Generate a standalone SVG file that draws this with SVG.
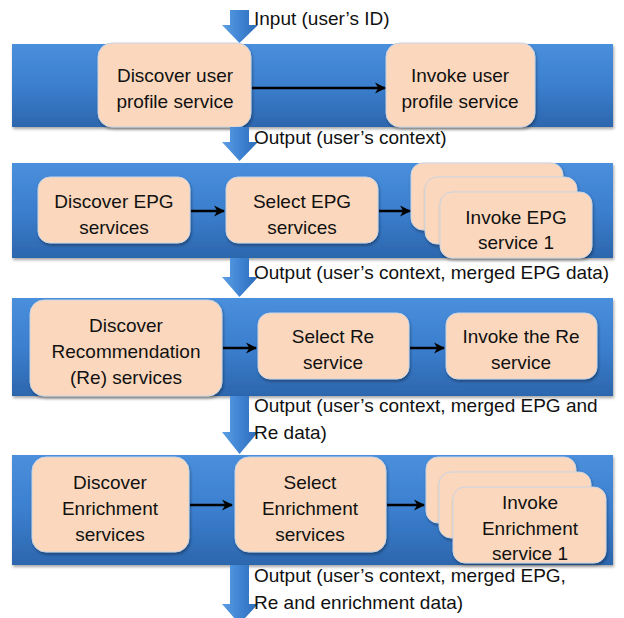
<svg xmlns="http://www.w3.org/2000/svg" width="624" height="618" viewBox="0 0 624 618">
<defs>
<linearGradient id="band" x1="0" y1="0" x2="0" y2="1">
<stop offset="0" stop-color="#4a8fdc"/>
<stop offset="0.5" stop-color="#3b7fcf"/>
<stop offset="1" stop-color="#2c66ad"/>
</linearGradient>
<linearGradient id="barrow" x1="0" y1="0" x2="1" y2="0">
<stop offset="0" stop-color="#5d9fe4"/>
<stop offset="0.5" stop-color="#3f84d3"/>
<stop offset="1" stop-color="#2c6bb8"/>
</linearGradient>
<filter id="sh" x="-10%" y="-10%" width="125%" height="130%">
<feDropShadow dx="1" dy="2" stdDeviation="1.5" flood-color="#000" flood-opacity="0.35"/>
</filter>
<marker id="ah" viewBox="0 0 10 10" refX="9" refY="5" markerWidth="4.5" markerHeight="4.5" orient="auto">
<path d="M0,0 L10,5 L0,10 L3,5 Z" fill="#000"/>
</marker>
</defs>
<style>
.band{fill:url(#band);filter:url(#sh);}
.box{fill:#fbd8bd;stroke:#c9d4e4;stroke-width:1;filter:url(#sh);}
.t{font-family:"Liberation Sans",Arial,sans-serif;font-size:19px;fill:#111;}
.c{text-anchor:middle;}
.conn{stroke:#000;stroke-width:2.5;fill:none;marker-end:url(#ah);}
.ba{fill:url(#barrow);}
</style>

<!-- bands -->
<g id="bands">
<rect class="band" x="12" y="44" width="601" height="83"/>
<rect class="band" x="12" y="163" width="601" height="95"/>
<rect class="band" x="12" y="298" width="601" height="98"/>
<rect class="band" x="12" y="455" width="601" height="110"/>
</g>

<!-- stage 1 -->
<g id="discover-user-profile">
<rect class="box" x="98" y="43" width="153" height="84" rx="14"/>
<text class="t c" x="175" y="82">Discover user</text>
<text class="t c" x="175" y="108">profile service</text>
</g>
<g id="invoke-user-profile">
<rect class="box" x="386" y="43" width="149" height="84" rx="14"/>
<text class="t c" x="460" y="82">Invoke user</text>
<text class="t c" x="460" y="108">profile service</text>
</g>

<!-- stage 2 -->
<g id="discover-epg">
<rect class="box" x="38" y="177" width="152" height="66" rx="12"/>
<text class="t c" x="114" y="208">Discover EPG</text>
<text class="t c" x="114" y="234">services</text>
</g>
<g id="select-epg">
<rect class="box" x="226" y="177" width="152" height="66" rx="12"/>
<text class="t c" x="302" y="208">Select EPG</text>
<text class="t c" x="302" y="234">services</text>
</g>
<g id="invoke-epg">
<rect class="box" x="411" y="163" width="152" height="67" rx="12"/>
<rect class="box" x="425" y="177" width="152" height="67" rx="12"/>
<rect class="box" x="440" y="192" width="152" height="66" rx="12"/>
<text class="t c" x="516" y="224">Invoke EPG</text>
<text class="t c" x="516" y="249">service 1</text>
</g>

<!-- stage 3 -->
<g id="discover-re">
<rect class="box" x="30" y="300" width="192" height="96" rx="14"/>
<text class="t c" x="126" y="332">Discover</text>
<text class="t c" x="126" y="358">Recommendation</text>
<text class="t c" x="126" y="384">(Re) services</text>
</g>
<g id="select-re">
<rect class="box" x="258" y="313" width="151" height="66" rx="12"/>
<text class="t c" x="333" y="343">Select Re</text>
<text class="t c" x="333" y="369">service</text>
</g>
<g id="invoke-re">
<rect class="box" x="446" y="313" width="151" height="66" rx="12"/>
<text class="t c" x="521" y="343">Invoke the Re</text>
<text class="t c" x="521" y="369">service</text>
</g>

<!-- stage 4 -->
<g id="discover-enrichment">
<rect class="box" x="32" y="457" width="157" height="95" rx="14"/>
<text class="t c" x="110" y="489">Discover</text>
<text class="t c" x="110" y="515">Enrichment</text>
<text class="t c" x="110" y="541">services</text>
</g>
<g id="select-enrichment">
<rect class="box" x="235" y="457" width="151" height="95" rx="14"/>
<text class="t c" x="310" y="489">Select</text>
<text class="t c" x="310" y="515">Enrichment</text>
<text class="t c" x="310" y="541">services</text>
</g>
<g id="invoke-enrichment">
<rect class="box" x="426" y="457" width="150" height="66" rx="12"/>
<rect class="box" x="439" y="472" width="152" height="66" rx="12"/>
<rect class="box" x="453" y="487" width="153" height="76" rx="12"/>
<text class="t c" x="530" y="509">Invoke</text>
<text class="t c" x="530" y="535">Enrichment</text>
<text class="t c" x="530" y="560">service 1</text>
</g>

<!-- connectors -->
<g id="connectors">
<line class="conn" x1="252" y1="88" x2="385" y2="88"/>
<line class="conn" x1="191" y1="211" x2="224" y2="211"/>
<line class="conn" x1="379" y1="211" x2="410" y2="211"/>
<line class="conn" x1="223" y1="348" x2="256" y2="348"/>
<line class="conn" x1="410" y1="348" x2="444" y2="348"/>
<line class="conn" x1="190" y1="505" x2="232" y2="505"/>
<line class="conn" x1="387" y1="505" x2="424" y2="505"/>

<path class="ba" d="M230,10 H249 V25 H258 L239.5,43 L222,25 H230 Z"/>
<path class="ba" d="M230,127 H249 V142 H258 L239.5,161 L222,142 H230 Z"/>
<path class="ba" d="M230,258 H249 V277 H258 L239.5,297 L222,277 H230 Z"/>
<path class="ba" d="M230,396 H249 V432 H258 L239.5,454 L222,432 H230 Z"/>
<path class="ba" d="M230,565 H249 V604 H258 L239.5,624 L222,604 H230 Z"/>
</g>

<!-- flow labels -->
<g id="labels">
<text class="t" x="254" y="25">Input (user’s ID)</text>
<text class="t" x="254" y="144">Output (user’s context)</text>
<text class="t" x="254" y="279">Output (user’s context, merged EPG data)</text>
<text class="t" x="254" y="412">Output (user’s context, merged EPG and</text>
<text class="t" x="254" y="439">Re data)</text>
<text class="t" x="254" y="582">Output (user’s context, merged EPG,</text>
<text class="t" x="254" y="609">Re and enrichment data)</text>
</g>
</svg>
